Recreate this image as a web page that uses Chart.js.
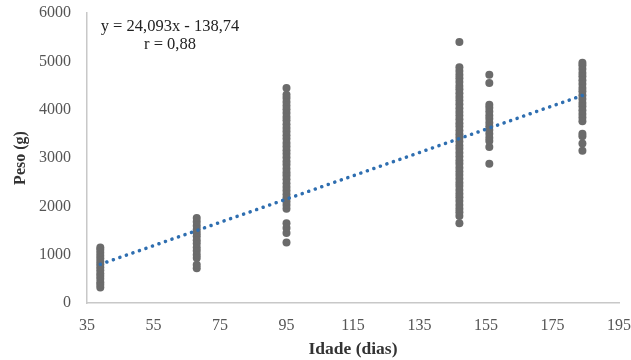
<!DOCTYPE html>
<html lang="pt">
<head>
    <script src="https://cdn.jsdelivr.net/npm/chart.js@4/dist/chart.umd.min.js"></script>
    <style>
        html, body { margin: 0; padding: 0; background: #fff; }
        #canvas-container { position: relative; width: 631px; height: 360px; }
    </style>
</head>
<body>

<div id="canvas-container">
    <canvas id="scatter-chart"></canvas>
</div>

<script>
    // idade (dias) of each group and the weights
    const ages = [39, 68, 95, 147, 156, 184];
    const weights39 = [320, 380, 430, 500, 560, 610, 680, 740, 800, 860, 920, 980, 1040, 1100, 1150];
    const weights68 = [720, 790, 930, 1000, 1080, 1150, 1230, 1300, 1380, 1450, 1520, 1600, 1680, 1760];
    const weights95 = [1250, 1450, 1550, 1650, 1950, 2030, 2100, 2180, 2250, 2330, 2400, 2480, 2560, 2640,
        2700, 2780, 2860, 2930, 3010, 3090, 3160, 3240, 3310, 3400, 3470, 3550, 3620, 3700, 3780, 3850,
        3930, 4010, 4080, 4160, 4240, 4310, 4450];
    const weights147 = [1650, 1800, 1880, 1950, 2030, 2110, 2190, 2260, 2340, 2420, 2490, 2570, 2650, 2720,
        2800, 2880, 2950, 3030, 3110, 3190, 3260, 3340, 3420, 3490, 3570, 3650, 3720, 3800, 3880, 3950,
        4030, 4110, 4190, 4260, 4340, 4420, 4490, 4570, 4650, 4720, 4800, 4880, 5400];
    const weights156 = [2880, 3230, 3350, 3420, 3500, 3580, 3650, 3730, 3810, 3880, 3960, 4040, 4100, 4550, 4720];
    const weights184 = [3150, 3300, 3450, 3500, 3760, 3840, 3910, 3990, 4070, 4140, 4220, 4300, 4380, 4450,
        4530, 4610, 4690, 4760, 4840, 4920, 4970];
    const groups = [weights39, weights68, weights95, weights147, weights156, weights184];

    // trendline as printed on the chart
    const slope = 24.093, intercept = -138.74;
    const equationText = "y = 24,093x - 138,74";
    const rText = "r = 0,88";

    const points = [];
    groups.forEach((g, i) => g.forEach(w => points.push({ x: ages[i], y: w })));

    const xFirst = ages[0], xLast = ages[ages.length - 1];
    const trend = [
        { x: xFirst, y: slope * xFirst + intercept },
        { x: xLast, y: slope * xLast + intercept }
    ];

    const serif = "'Liberation Serif', 'Times New Roman', serif";

    const equationLabel = {
        id: 'equationLabel',
        afterDraw(chart) {
            const ctx = chart.ctx;
            ctx.save();
            ctx.fillStyle = '#222';
            ctx.font = "16.5px " + serif;
            ctx.textAlign = 'center';
            ctx.textBaseline = 'middle';
            ctx.fillText(equationText, 170, 27);
            ctx.fillText(rText, 170, 45);
            ctx.restore();
        }
    };

    new Chart(document.getElementById("scatter-chart"), {
        type: "scatter",
        data: {
            datasets: [
                {
                    label: "Peso",
                    data: points,
                    backgroundColor: "#6b6b6b",
                    borderWidth: 0,
                    pointRadius: 4,
                    pointHoverRadius: 4,
                    order: 2
                },
                {
                    label: "Linear",
                    type: "line",
                    data: trend,
                    borderColor: "#2e6eb0",
                    borderWidth: 3.5,
                    borderDash: [0.1, 6.8],
                    borderCapStyle: "round",
                    pointRadius: 0,
                    fill: false,
                    order: 1
                }
            ]
        },
        options: {
            responsive: true,
            maintainAspectRatio: false,
            animation: false,
            layout: { padding: { top: 13, right: 12, left: 0, bottom: 0 } },
            plugins: {
                legend: { display: false },
                tooltip: { enabled: false }
            },
            scales: {
                x: {
                    type: "linear",
                    min: 35,
                    max: 195,
                    ticks: { stepSize: 20, padding: 13, color: "#555", font: { family: serif, size: 16 },
                        callback: v => String(v) },
                    grid: { display: false, drawTicks: false },
                    border: { display: true, color: "#c8c8c8", width: 1.5 },
                    title: {
                        display: true,
                        text: "Idade (dias)",
                        color: "#333",
                        font: { family: serif, size: 17.5, weight: "bold" },
                        padding: { top: 0, bottom: 0 }
                    },
                    afterFit: scale => {
                        scale.height = 57;
                        scale.paddingLeft = 0;
                        scale.paddingRight = 0;
                    }
                },
                y: {
                    min: 0,
                    max: 6000,
                    ticks: { stepSize: 1000, padding: 16, color: "#555", font: { family: serif, size: 16 },
                        callback: v => String(v) },
                    grid: { display: false, drawTicks: false },
                    border: { display: true, color: "#c8c8c8", width: 1.5 },
                    title: {
                        display: true,
                        text: "Peso (g)",
                        color: "#333",
                        font: { family: serif, size: 16, weight: "bold" },
                        padding: { top: 11, bottom: 0 }
                    },
                    afterFit: scale => {
                        scale.width = 87;
                        scale.paddingTop = 0;
                        scale.paddingBottom = 0;
                    }
                }
            }
        },
        plugins: [equationLabel]
    });
</script>

</body>
</html>
